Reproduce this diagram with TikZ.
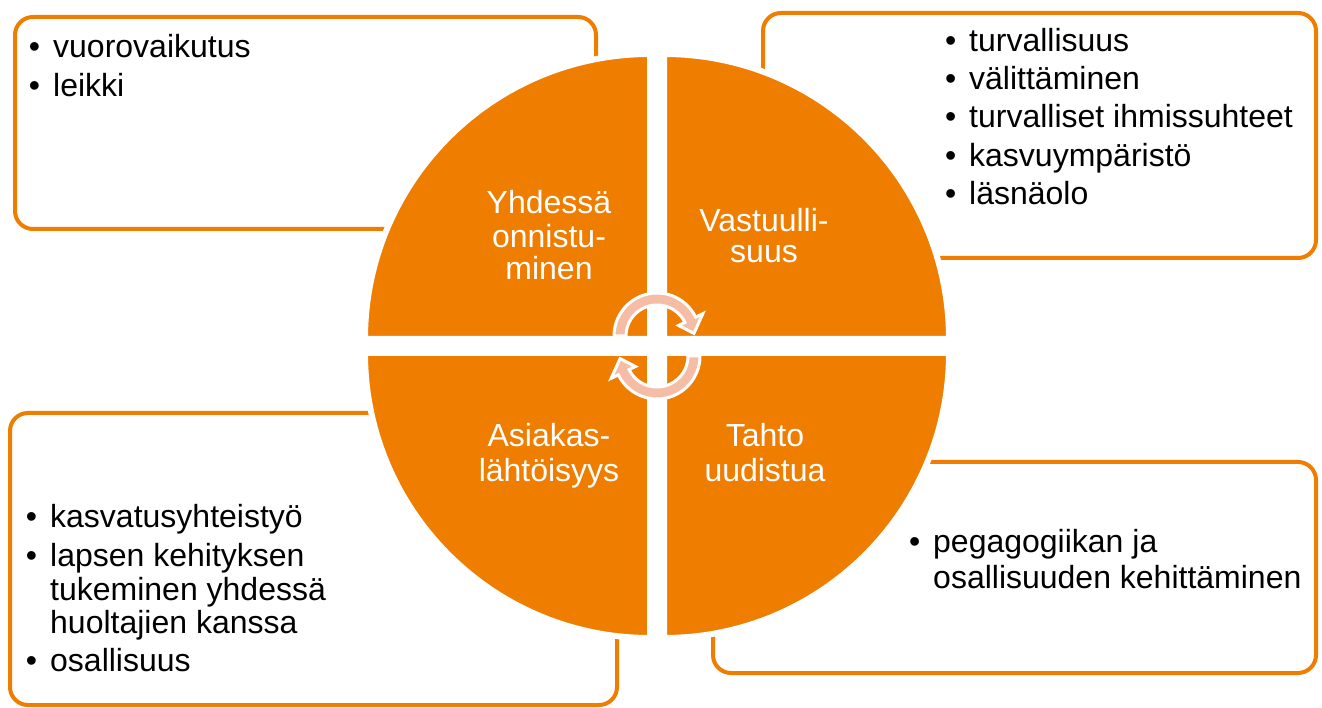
\documentclass[tikz,border=0pt]{standalone}
\usepackage{fontspec}
\setmainfont{Liberation Sans}
\usetikzlibrary{calc}
\definecolor{boxorange}{HTML}{EF7D00}
\definecolor{arrowpink}{HTML}{F5BDA6}
\newcommand\itemfont{\fontsize{32}{38}\selectfont}
\newcommand\bul{\llap{\textbullet\hspace{13pt}}}
\tikzset{
  box/.style={draw=boxorange, line width=4pt, rounded corners=18pt},
  quad/.style={fill=boxorange, draw=white, line width=6pt},
  turn/.style={fill=arrowpink, draw=white, line width=3pt},
  item/.style={anchor=base west, inner sep=0pt, font=\itemfont},
  quadlabel/.style={anchor=base, inner sep=0pt, text=white, font=\itemfont},
}

\begin{document}
\begin{tikzpicture}[x=1pt, y=1pt]
  \useasboundingbox (0,0) rectangle (1322,707);

  % text boxes behind the circle
  \draw[box] (15,478) rectangle (596,690);
  \draw[box] (763,449) rectangle (1316,694);
  \draw[box] (10,2) rectangle (617,294);
  \draw[box] (713,34) rectangle (1316,245);

  % four quarters
  \coordinate (mid) at (657,361);
  \draw[quad] (650,368) -- ++(-285,0) arc[start angle=180, end angle=90, radius=285pt] -- cycle;
  \draw[quad] (664,368) -- ++(0,285) arc[start angle=90, end angle=0, radius=285pt] -- cycle;
  \draw[quad] (650,354) -- ++(0,-285) arc[start angle=270, end angle=180, radius=285pt] -- cycle;
  \draw[quad] (664,354) -- ++(285,0) arc[start angle=0, end angle=-90, radius=285pt] -- cycle;

  \node[quadlabel] (yh1) at (549,493) {Yhdessä};
  \node[quadlabel] (yh2) at (549,459) {onnistu-};
  \node[quadlabel] (yh3) at (549,427) {minen};
  \node[quadlabel] (va1) at (764,475) {Vastuulli-};
  \node[quadlabel] (va2) at (764,444) {suus};
  \node[quadlabel] (as1) at (549,260) {Asiakas-};
  \node[quadlabel] (as2) at (549,225) {lähtöisyys};
  \node[quadlabel] (ta1) at (765,260) {Tahto};
  \node[quadlabel] (ta2) at (765,225) {uudistua};

  % turning arrows in the middle
  \coordinate (c1) at (657,371);
  \coordinate (c2) at (657,351);
  \draw[turn] ($(c1)+(180:43)$) arc[start angle=180, end angle=26, radius=43pt]
    -- ($(c1)+(26:51)$) -- ($(c1)+(4:37)$) -- ($(c1)+(26:24)$) -- ($(c1)+(26:31)$)
    arc[start angle=26, end angle=180, radius=31pt] -- cycle;
  \draw[turn] ($(c2)+(0:43)$) arc[start angle=0, end angle=-154, radius=43pt]
    -- ($(c2)+(-154:51)$) -- ($(c2)+(-176:37)$) -- ($(c2)+(-154:24)$) -- ($(c2)+(-154:31)$)
    arc[start angle=-154, end angle=0, radius=31pt] -- cycle;

  % lists
  \node[item] (tl1) at (53,649) {\bul vuorovaikutus};
  \node[item] (tl2) at (53,610) {\bul leikki};

  \node[item] (tr1) at (969,655) {\bul turvallisuus};
  \node[item] (tr2) at (969,617) {\bul välittäminen};
  \node[item] (tr3) at (969,579) {\bul turvalliset ihmissuhteet};
  \node[item] (tr4) at (969,540) {\bul kasvuympäristö};
  \node[item] (tr5) at (969,502) {\bul läsnäolo};

  \node[item] (bl1) at (50,179) {\bul kasvatusyhteistyö};
  \node[item] (bl2) at (50,140) {\bul lapsen kehityksen};
  \node[item] (bl3) at (50,107) {tukeminen yhdessä};
  \node[item] (bl4) at (50,74) {huoltajien kanssa};
  \node[item] (bl5) at (50,36) {\bul osallisuus};

  \node[item] (br1) at (933,154) {\bul pegagogiikan ja};
  \node[item] (br2) at (933,119) {osallisuuden kehittäminen};
\end{tikzpicture}
\end{document}
